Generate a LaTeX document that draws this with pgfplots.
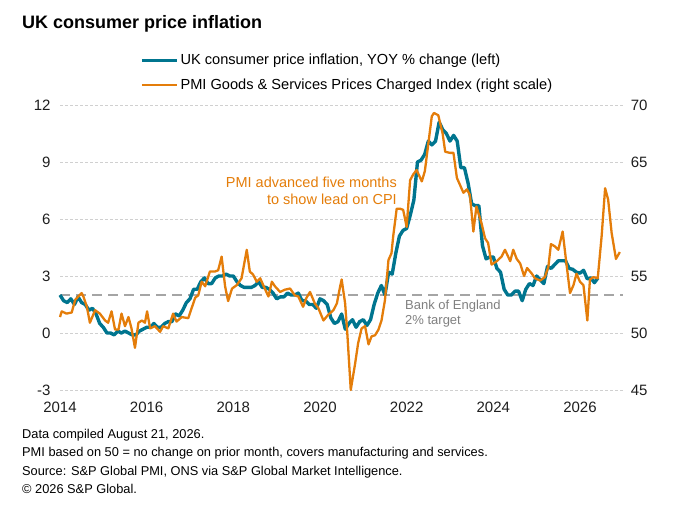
\documentclass[border=0pt]{standalone}
\usepackage{fontspec}
\setmainfont{Liberation Sans}
\usepackage{pgfplots}
\usepackage{pgfplotstable}
\pgfplotsset{compat=1.18}
\definecolor{cpiteal}{RGB}{0,117,143}
\definecolor{pmiorange}{RGB}{228,125,10}
\definecolor{gridgray}{RGB}{208,208,208}
\definecolor{tgtgray}{RGB}{165,165,165}
\definecolor{txtgray}{RGB}{128,128,128}
\definecolor{ticktxt}{RGB}{30,30,30}

% UK CPI, YOY %, n = months since Jan 2014
\pgfplotstableread{
n v
0 2.0
1 1.7
2 1.6
3 1.8
4 1.5
5 1.9
6 1.6
7 1.5
8 1.2
9 1.3
10 1.0
11 0.5
12 0.3
13 0.0
14 0.0
15 -0.1
16 0.1
17 0.0
18 0.1
19 0.0
20 -0.1
21 -0.1
22 0.1
23 0.2
24 0.3
25 0.3
26 0.5
27 0.3
28 0.3
29 0.5
30 0.6
31 0.6
32 1.0
33 0.9
34 1.2
35 1.6
36 1.8
37 2.3
38 2.3
39 2.7
40 2.9
41 2.6
42 2.6
43 2.9
44 3.0
45 3.0
46 3.1
47 3.0
48 3.0
49 2.7
50 2.5
51 2.4
52 2.4
53 2.4
54 2.5
55 2.7
56 2.4
57 2.4
58 2.3
59 2.1
60 1.8
61 1.9
62 1.9
63 2.1
64 2.0
65 2.0
66 2.1
67 1.7
68 1.7
69 1.5
70 1.5
71 1.3
72 1.8
73 1.7
74 1.5
75 0.8
76 0.5
77 0.6
78 1.0
79 0.2
80 0.5
81 0.7
82 0.3
83 0.6
84 0.7
85 0.4
86 0.7
87 1.5
88 2.1
89 2.5
90 2.0
91 3.2
92 3.1
93 4.2
94 5.1
95 5.4
96 5.5
97 6.2
98 7.0
99 9.0
100 9.1
101 9.4
102 10.1
103 9.9
104 10.1
105 11.1
106 10.7
107 10.5
108 10.1
109 10.4
110 10.1
111 8.7
112 8.7
113 7.9
114 6.8
115 6.7
116 6.7
117 4.6
118 3.9
119 4.0
120 4.0
121 3.4
122 3.2
123 2.3
124 2.0
125 2.0
126 2.2
127 2.2
128 1.7
129 2.3
130 2.6
131 2.5
132 3.0
133 2.8
134 2.6
135 3.5
136 3.4
137 3.6
138 3.8
139 3.8
140 3.8
141 3.4
142 3.35
143 3.2
144 3.15
145 3.3
146 2.85
147 2.9
148 2.65
149 2.9
}\cpidata

% PMI Goods & Services Prices Charged Index, advanced five months
\pgfplotstableread{
x p
2014.00 51.4
2014.04 51.9
2014.15 51.7
2014.27 51.8
2014.35 52.9
2014.42 53.2
2014.50 53.5
2014.54 53.2
2014.62 52.3
2014.69 50.9
2014.81 52.0
2014.92 51.7
2015.04 51.1
2015.11 50.9
2015.19 51.9
2015.27 50.3
2015.35 50.3
2015.42 51.7
2015.50 50.6
2015.58 51.4
2015.65 50.4
2015.73 48.7
2015.81 50.9
2015.89 51.1
2015.96 50.9
2016.01 51.9
2016.08 50.4
2016.19 50.6
2016.31 50.1
2016.38 50.6
2016.50 50.4
2016.61 51.7
2016.69 51.0
2016.81 51.4
2016.96 51.3
2017.12 53.1
2017.19 53.3
2017.27 54.5
2017.35 54.1
2017.46 55.4
2017.58 55.4
2017.65 55.5
2017.73 56.7
2017.81 54.1
2017.88 52.8
2017.97 53.9
2018.08 54.2
2018.19 54.8
2018.31 57.3
2018.38 55.4
2018.46 55.1
2018.54 54.5
2018.62 54.8
2018.69 54.2
2018.81 53.2
2018.89 54.5
2018.96 54.1
2019.08 53.6
2019.19 53.8
2019.31 53.9
2019.42 53.3
2019.50 53.2
2019.61 52.3
2019.69 53.1
2019.77 53.6
2019.88 52.6
2019.96 52.2
2020.08 51.1
2020.19 51.6
2020.31 52.0
2020.39 52.6
2020.45 53.8
2020.50 54.7
2020.58 52.6
2020.63 50.0
2020.71 45.0
2020.81 47.3
2020.88 49.1
2020.96 50.4
2021.04 50.6
2021.12 49.0
2021.19 49.7
2021.27 49.8
2021.35 50.3
2021.42 51.1
2021.50 52.9
2021.58 56.4
2021.65 57.0
2021.69 58.5
2021.77 60.9
2021.85 60.9
2021.92 60.8
2022.00 59.3
2022.08 63.4
2022.15 63.9
2022.23 64.3
2022.35 63.3
2022.42 64.2
2022.50 66.6
2022.58 69.0
2022.63 69.3
2022.73 69.1
2022.83 67.5
2022.89 65.9
2023.00 65.8
2023.08 65.8
2023.16 63.6
2023.23 63.0
2023.31 62.3
2023.39 62.6
2023.46 62.1
2023.54 58.9
2023.61 61.1
2023.73 59.6
2023.81 58.3
2023.88 57.9
2023.96 56.0
2024.08 56.3
2024.19 56.7
2024.27 57.3
2024.39 56.3
2024.46 57.3
2024.54 56.5
2024.62 56.1
2024.71 55.0
2024.78 55.7
2024.89 55.2
2024.96 54.8
2025.08 54.6
2025.19 54.9
2025.27 55.8
2025.33 57.8
2025.42 57.6
2025.50 57.3
2025.60 58.9
2025.69 56.0
2025.77 53.5
2025.85 54.2
2025.92 55.2
2026.00 54.5
2026.08 54.2
2026.17 51.1
2026.23 54.7
2026.31 54.9
2026.41 54.8
2026.50 58.5
2026.58 62.7
2026.65 61.7
2026.73 58.8
2026.83 56.5
2026.92 57.1
}\pmidata

\pgfplotsset{
  commonaxis/.style={
    at={(60pt,121pt)}, anchor=south west,
    width=563.3pt, height=285pt, scale only axis,
    xmin=2014, xmax=2027,
    axis line style={draw=none},
    tick style={draw=none},
    major tick length=0pt,
    clip=false,
    tick label style={font=\fontsize{15}{17}\selectfont, text=ticktxt},
    /pgf/number format/1000 sep={},
    /pgf/number format/assume math mode=true,
  }
}

\begin{document}
\begin{tikzpicture}[x=1pt,y=1pt]
\path[use as bounding box] (0,0) rectangle (687,511);

\begin{axis}[
  commonaxis,
  ymin=-3, ymax=12,
  ytick={-3,0,3,6,9,12},
  xtick={2014,2016,...,2026},
  ymajorgrids,
  major grid style={gridgray, line width=0.8pt, dash pattern=on 3pt off 2pt},
  yticklabel style={xshift=-6pt},
  xticklabel style={yshift=-8pt},
  legend style={at={(0.142,1.186)}, anchor=north west, draw=none, fill=none,
    font=\fontsize{14.6}{17}\selectfont, row sep=9pt, inner sep=0pt},
  legend cell align=left,
  legend image code/.code={\draw[#1] (0pt,0pt) -- (35pt,0pt);},
]
\addplot[tgtgray, line width=1.8pt, dash pattern=on 10pt off 6pt, forget plot]
  coordinates {(2014,2) (2027,2)};
\addplot[cpiteal, line width=3.4pt, line join=round]
  table[x expr=2014+\thisrow{n}/12, y=v]{\cpidata};
\addlegendentry{UK consumer price inflation, YOY \% change (left)}
\addlegendimage{pmiorange, line width=2.3pt}
\addlegendentry{PMI Goods \& Services Prices Charged Index (right scale)}
\end{axis}

\begin{axis}[
  commonaxis,
  ymin=45, ymax=70,
  ytick={45,50,...,70},
  yticklabel pos=right,
  yticklabel style={xshift=4pt},
  xtick=\empty,
]
\addplot[pmiorange, line width=2.3pt, line join=round]
  table[x=x, y=p]{\pmidata};
\end{axis}

\node[anchor=base west, inner sep=0pt, font=\fontsize{18}{21}\selectfont\bfseries]
  at (22,482) {UK consumer price inflation};

\node[anchor=north east, align=right, inner sep=0pt, text=pmiorange,
  font=\fontsize{14.5}{17}\selectfont] at (397,334)
  {PMI advanced five months\\to show lead on CPI};

\node[anchor=north west, align=left, inner sep=0pt, text=txtgray,
  font=\fontsize{13}{15}\selectfont] at (405,211.5)
  {Bank of England\\2\% target};

\begin{scope}[every node/.style={anchor=base west, inner sep=0pt, font=\fontsize{12.8}{15}\selectfont}]
\node at (22,73) {Data compiled August 21, 2026.};
\node at (22,54.5) {PMI based on 50 = no change on prior month, covers manufacturing and services.};
\node at (22,36) {Source: S\&P Global PMI, ONS via S\&P Global Market Intelligence.};
\node at (22,17.5) {© 2026 S\&P Global.};
\end{scope}
\end{tikzpicture}
\end{document}
